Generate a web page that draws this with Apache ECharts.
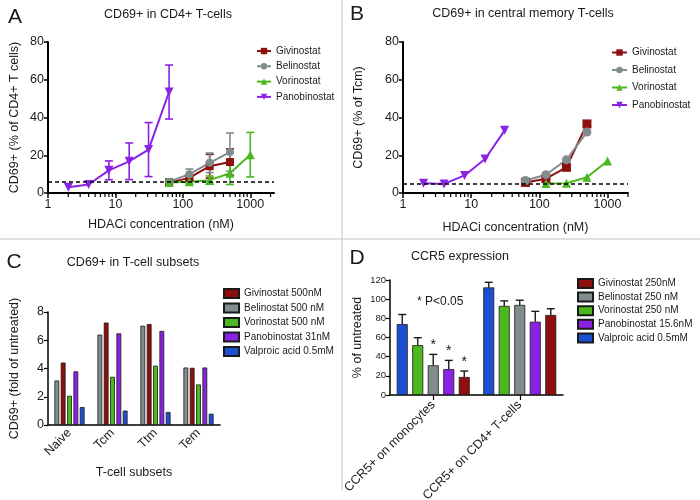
<!DOCTYPE html>
<html><head><meta charset="utf-8">
<script src="https://cdn.jsdelivr.net/npm/echarts@6/dist/echarts.min.js"></script>
<style>html,body{margin:0;padding:0;background:#fff}#c{width:700px;height:500px}</style>
</head><body><div id="c"></div>
<script>
// ---------- Panel A: CD69+ in CD4+ T-cells (mean ± SD) ----------
const givA_x = [62.5, 125, 250, 500];
const givA_y = [5.5, 8, 14.2, 16.4];
const givA_sd = [1.5, 1.5, 6.3, 7];
const belA_x = [62.5, 125, 250, 500];
const belA_y = [6, 10, 16, 21.7];
const belA_sd = [1.5, 2.7, 5.2, 10.1];
const vorA_x = [62.5, 125, 250, 500, 1000];
const vorA_y = [5.5, 6, 6.8, 10.5, 20.3];
const vorA_sd = [1.5, 1.2, 2.2, 6, 11.8];
const panA_x = [2, 4, 8, 16, 31, 62.5];
const panA_y = [3, 4.5, 12, 16.8, 23, 53.5];
const panA_sd = [0, 0, 5, 9.7, 14.3, 14.3];
const baseA = 6.2;
// ---------- Panel B: CD69+ in central memory T-cells ----------
const givB_x = [62.5, 125, 250, 500];
const givB_y = [5.6, 7.6, 13.6, 36.6];
const belB_x = [62.5, 125, 250, 500];
const belB_y = [6.6, 9.7, 17.6, 32.3];
const vorB_x = [125, 250, 500, 1000];
const vorB_y = [5, 5.2, 8.3, 17];
const panB_x = [2, 4, 8, 16, 31];
const panB_y = [5.1, 4.8, 9.3, 18, 33.2];
const baseB = 5.1;
const logTicks = [1, 10, 100, 1000];
// ---------- Panel C: CD69+ in T-cell subsets (fold of untreated) ----------
const subsets = ['Naive', 'Tcm', 'Ttm', 'Tem'];
const belC = [3.15, 6.4, 7.03, 4.07];
const givC = [4.42, 7.25, 7.15, 4.05];
const vorC = [2.07, 3.41, 4.2, 2.87];
const panC = [3.8, 6.49, 6.66, 4.07];
const valC = [1.27, 1.02, 0.92, 0.8];
// ---------- Panel D: CCR5 expression (% of untreated) ----------
const ccr5Cats = ['CCR5+ on monocytes', 'CCR5+ on CD4+ T-cells'];
const valD = [74, 112.3];   const valD_err = [10, 5.3];
const vorD = [52, 93];      const vorD_err = [7.8, 5.2];
const belD = [31, 94];      const belD_err = [11.4, 4.9];
const panD = [27, 76.5];    const panD_err = [9.1, 10.8];
const givD = [18.8, 83.5];  const givD_err = [6.2, 6.5];
const belD_star = [1, 0];
const panD_star = [1, 0];
const givD_star = [1, 0];

// ---------- styling ----------
const C_RED = '#8f0f0f', C_GRAY = '#808c8e', C_GREEN = '#4cb820', C_PURPLE = '#8a22e4', C_BLUE = '#1d4fd2';
const FONT = 'Liberation Sans, Arial, sans-serif';
const TXT = '#1a1a1a';

const minorVals = [];
for (let d = 1; d <= 1000; d *= 10) for (let k = 2; k <= 9; k++) if (k * d < 2250) minorVals.push(k * d);

function pair(x, y) { return x.map((v, i) => [v, y[i]]); }

function lineSeries(name, x, y, color, symbol, size, rotate, xi) {
  return {
    type: 'line', name, xAxisIndex: xi, yAxisIndex: xi, data: pair(x, y),
    symbol, symbolSize: size, symbolRotate: rotate || 0, showSymbol: true,
    lineStyle: { color, width: 2 }, itemStyle: { color }, z: 3, animation: false
  };
}
function errSeries(x, y, sd, color, xi) {
  return {
    type: 'custom', xAxisIndex: xi, yAxisIndex: xi, silent: true, z: 2, animation: false,
    data: x.map((v, i) => [v, y[i], sd[i]]),
    encode: { x: 0, y: 1 },
    renderItem: (p, api) => {
      const xv = api.value(0), yv = api.value(1), s = api.value(2);
      if (!s) return null;
      const t = api.coord([xv, yv + s]), b = api.coord([xv, Math.max(yv - s, 0.01)]);
      const w = 4, st = { stroke: color, lineWidth: 1.6 };
      return { type: 'group', children: [
        { type: 'line', shape: { x1: t[0], y1: t[1], x2: b[0], y2: b[1] }, style: st },
        { type: 'line', shape: { x1: t[0] - w, y1: t[1], x2: t[0] + w, y2: t[1] }, style: st },
        { type: 'line', shape: { x1: b[0] - w, y1: b[1], x2: b[0] + w, y2: b[1] }, style: st }
      ] };
    }
  };
}
function minorTickSeries(xi) {
  return {
    type: 'custom', xAxisIndex: xi, yAxisIndex: xi, silent: true, animation: false,
    data: minorVals.map(v => [v, 0]), encode: { x: 0, y: 1 }, clip: false,
    renderItem: (p, api) => {
      const c = api.coord([api.value(0), 0]);
      return { type: 'line', shape: { x1: c[0], y1: c[1] + 1, x2: c[0], y2: c[1] + 4 }, style: { stroke: '#000', lineWidth: 1.2 } };
    }
  };
}
function dashLine(xi, val) {
  return {
    type: 'line', xAxisIndex: xi, yAxisIndex: xi, data: [], silent: true, animation: false,
    markLine: { silent: true, symbol: ['none', 'none'], label: { show: false }, animation: false,
      lineStyle: { type: [4, 3], color: '#000', width: 1.6 }, data: [{ yAxis: val }] }
  };
}
function barSeries(name, data, color, xi, bw, gap) {
  return {
    type: 'bar', name, xAxisIndex: xi, yAxisIndex: xi, data, barWidth: bw, barGap: gap,
    itemStyle: { color, borderColor: '#1a1a1a', borderWidth: 0.8 }, animation: false
  };
}
function barErr(vals, errs, stars, idx, n, spacing, xi) {
  return {
    type: 'custom', xAxisIndex: xi, yAxisIndex: xi, silent: true, z: 5, animation: false,
    data: vals.map((v, i) => [i, v, errs[i], stars ? stars[i] : 0]),
    encode: { x: 0, y: 1 },
    renderItem: (p, api) => {
      const ci = api.value(0), v = api.value(1), e = api.value(2), s = api.value(3);
      const dx = (idx - (n - 1) / 2) * spacing;
      const t = api.coord([ci, v + e]), b = api.coord([ci, v]);
      const x = t[0] + dx, st = { stroke: '#1a1a1a', lineWidth: 1.4 };
      const ch = [
        { type: 'line', shape: { x1: x, y1: b[1], x2: x, y2: t[1] }, style: st },
        { type: 'line', shape: { x1: x - 4, y1: t[1], x2: x + 4, y2: t[1] }, style: st }
      ];
      if (s) ch.push({ type: 'text', x: x, y: t[1] - 2, style: { text: '*', font: '14px ' + FONT, fill: TXT, align: 'center', verticalAlign: 'bottom', textAlign: 'center', textVerticalAlign: 'bottom' } });
      return { type: 'group', children: ch };
    }
  };
}

const axisLineThick = { show: true, lineStyle: { color: '#000', width: 2 } };
const axisLineThin = { show: true, lineStyle: { color: '#000', width: 1.5 } };
const nameStyle = { fontSize: 12.5, color: TXT, fontFamily: FONT };
const lblStyle = { fontSize: 12.5, color: TXT, fontFamily: FONT };

function logX(gi, max, gap) {
  return {
    type: 'log', logBase: 10, gridIndex: gi, min: 1, max,
    axisLine: axisLineThick,
    axisTick: { show: true, length: 5, customValues: logTicks, lineStyle: { color: '#000', width: 1.5 } },
    axisLabel: Object.assign({ customValues: logTicks, margin: 5, formatter: v => String(Math.round(v)) }, lblStyle),
    minorTick: { show: false }, splitLine: { show: false },
    name: 'HDACi concentration (nM)', nameLocation: 'middle', nameGap: gap, nameTextStyle: nameStyle
  };
}
function valY(gi, max, interval, name, gap, thick, fs) {
  return {
    type: 'value', gridIndex: gi, min: 0, max, interval,
    axisLine: thick ? axisLineThick : axisLineThin,
    axisTick: { show: true, length: 4, lineStyle: { color: '#000', width: thick ? 1.5 : 1.2 } },
    axisLabel: Object.assign({ margin: 4 }, lblStyle, { fontSize: fs || 12.5 }),
    splitLine: { show: false },
    name, nameLocation: 'middle', nameGap: gap, nameTextStyle: nameStyle
  };
}
function txt(text, x, y, size, align) {
  return { type: 'text', x, y, silent: true, style: { text, font: size + 'px ' + FONT, fill: TXT,
    align: align || 'center', verticalAlign: 'middle', textAlign: align || 'center', textVerticalAlign: 'middle' } };
}

const chart = echarts.init(document.getElementById('c'), null, { renderer: 'canvas' });
const legendTxt = { fontSize: 10, color: TXT, fontFamily: FONT };
const option = {
  backgroundColor: '#fff',
  animation: false,
  textStyle: { fontFamily: FONT },
  grid: [
    { left: 48, top: 42, width: 226, height: 151, outerBoundsMode: 'none' },
    { left: 403, top: 42, width: 225, height: 151, outerBoundsMode: 'none' },
    { left: 48, top: 312, width: 172, height: 113, outerBoundsMode: 'none' },
    { left: 390, top: 280, width: 173, height: 115, outerBoundsMode: 'none' }
  ],
  xAxis: [
    logX(0, 2250, 25),
    logX(1, 2000, 28),
    { type: 'category', gridIndex: 2, data: subsets, axisLine: axisLineThin, axisTick: { show: false },
      axisLabel: Object.assign({ rotate: 45, margin: 6 }, lblStyle),
      name: 'T-cell subsets', nameLocation: 'middle', nameGap: 41, nameTextStyle: nameStyle },
    { type: 'category', gridIndex: 3, data: ccr5Cats, axisLine: axisLineThin,
      axisTick: { show: true, alignWithLabel: true, length: 5, lineStyle: { color: '#000', width: 1.2 } },
      axisLabel: Object.assign({ rotate: 45, margin: 8 }, lblStyle) }
  ],
  yAxis: [
    valY(0, 80, 20, 'CD69+ (% of CD4+ T cells)', 27, true),
    valY(1, 80, 20, 'CD69+ (% of Tcm)', 38, true),
    valY(2, 8, 2, 'CD69+ (fold of untreated)', 27, false),
    valY(3, 120, 20, '% of untreated', 26, false, 9.5)
  ],
  legend: [
    { data: ['Givinostat', 'Belinostat', 'Vorinostat', 'Panobinostat'], orient: 'vertical', left: 256, top: 46, padding: 0,
      itemWidth: 14, itemHeight: 8, itemGap: 5.3, textStyle: legendTxt, selectedMode: false },
    { data: ['Givinostat', 'Belinostat', 'Vorinostat', 'Panobinostat'], orient: 'vertical', left: 611, top: 47.5, padding: 0,
      itemWidth: 15, itemHeight: 8, itemGap: 7.5, textStyle: legendTxt, selectedMode: false },
    { data: ['Givinostat 500nM', 'Belinostat 500 nM', 'Vorinostat 500 nM', 'Panobinostat 31nM', 'Valproic acid 0.5mM'],
      orient: 'vertical', left: 223, top: 288, padding: 0, icon: 'rect', itemWidth: 15, itemHeight: 9, itemGap: 3.5,
      textStyle: legendTxt, selectedMode: false },
    { data: ['Givinostat 250nM', 'Belinostat 250 nM', 'Vorinostat 250 nM', 'Panobinostat 15.6nM', 'Valproic acid 0.5mM '],
      orient: 'vertical', left: 577, top: 278, padding: 0, icon: 'rect', itemWidth: 15, itemHeight: 9, itemGap: 2.6,
      textStyle: legendTxt, selectedMode: false }
  ],
  graphic: [
    txt('A', 15, 17, 21), txt('CD69+ in CD4+ T-cells', 168, 15, 12.5),
    txt('B', 357, 14, 21), txt('CD69+ in central memory T-cells', 523, 14, 12.5),
    txt('C', 14, 262, 21), txt('CD69+ in T-cell subsets', 133, 263, 12.5),
    txt('D', 357, 258, 21), txt('CCR5 expression', 460, 257, 12.5),
    txt('* P<0.05', 417, 302, 12, 'left'),
    { type: 'line', silent: true, shape: { x1: 0, y1: 239, x2: 700, y2: 239 }, style: { stroke: '#c4c4c4', lineWidth: 1 } },
    { type: 'line', silent: true, shape: { x1: 342, y1: 0, x2: 342, y2: 490 }, style: { stroke: '#c4c4c4', lineWidth: 1 } }
  ],
  series: [
    // Panel A
    errSeries(givA_x, givA_y, givA_sd, C_RED, 0),
    errSeries(belA_x, belA_y, belA_sd, C_GRAY, 0),
    errSeries(vorA_x, vorA_y, vorA_sd, C_GREEN, 0),
    errSeries(panA_x, panA_y, panA_sd, C_PURPLE, 0),
    lineSeries('Givinostat', givA_x, givA_y, C_RED, 'rect', 8, 0, 0),
    lineSeries('Belinostat', belA_x, belA_y, C_GRAY, 'circle', 8, 0, 0),
    lineSeries('Vorinostat', vorA_x, vorA_y, C_GREEN, 'triangle', 9, 0, 0),
    lineSeries('Panobinostat', panA_x, panA_y, C_PURPLE, 'triangle', 9, 180, 0),
    dashLine(0, baseA),
    minorTickSeries(0),
    // Panel B
    lineSeries('Givinostat', givB_x, givB_y, C_RED, 'rect', 9, 0, 1),
    lineSeries('Belinostat', belB_x, belB_y, C_GRAY, 'circle', 9, 0, 1),
    lineSeries('Vorinostat', vorB_x, vorB_y, C_GREEN, 'triangle', 9, 0, 1),
    lineSeries('Panobinostat', panB_x, panB_y, C_PURPLE, 'triangle', 9, 180, 1),
    dashLine(1, baseB),
    minorTickSeries(1),
    // Panel C (bar order as drawn)
    barSeries('Belinostat 500 nM', belC, C_GRAY, 2, 4.8, '32%'),
    barSeries('Givinostat 500nM', givC, C_RED, 2, 4.8, '32%'),
    barSeries('Vorinostat 500 nM', vorC, C_GREEN, 2, 4.8, '32%'),
    barSeries('Panobinostat 31nM', panC, C_PURPLE, 2, 4.8, '32%'),
    barSeries('Valproic acid 0.5mM', valC, C_BLUE, 2, 4.8, '32%'),
    // Panel D
    barSeries('Valproic acid 0.5mM ', valD, C_BLUE, 3, 11, '41%'),
    barSeries('Vorinostat 250 nM', vorD, C_GREEN, 3, 11, '41%'),
    barSeries('Belinostat 250 nM', belD, C_GRAY, 3, 11, '41%'),
    barSeries('Panobinostat 15.6nM', panD, C_PURPLE, 3, 11, '41%'),
    barSeries('Givinostat 250nM', givD, C_RED, 3, 11, '41%'),
    barErr(valD, valD_err, null, 0, 5, 15.5, 3),
    barErr(vorD, vorD_err, null, 1, 5, 15.5, 3),
    barErr(belD, belD_err, belD_star, 2, 5, 15.5, 3),
    barErr(panD, panD_err, panD_star, 3, 5, 15.5, 3),
    barErr(givD, givD_err, givD_star, 4, 5, 15.5, 3)
  ]
};
chart.setOption(option);
</script>
</body></html>
